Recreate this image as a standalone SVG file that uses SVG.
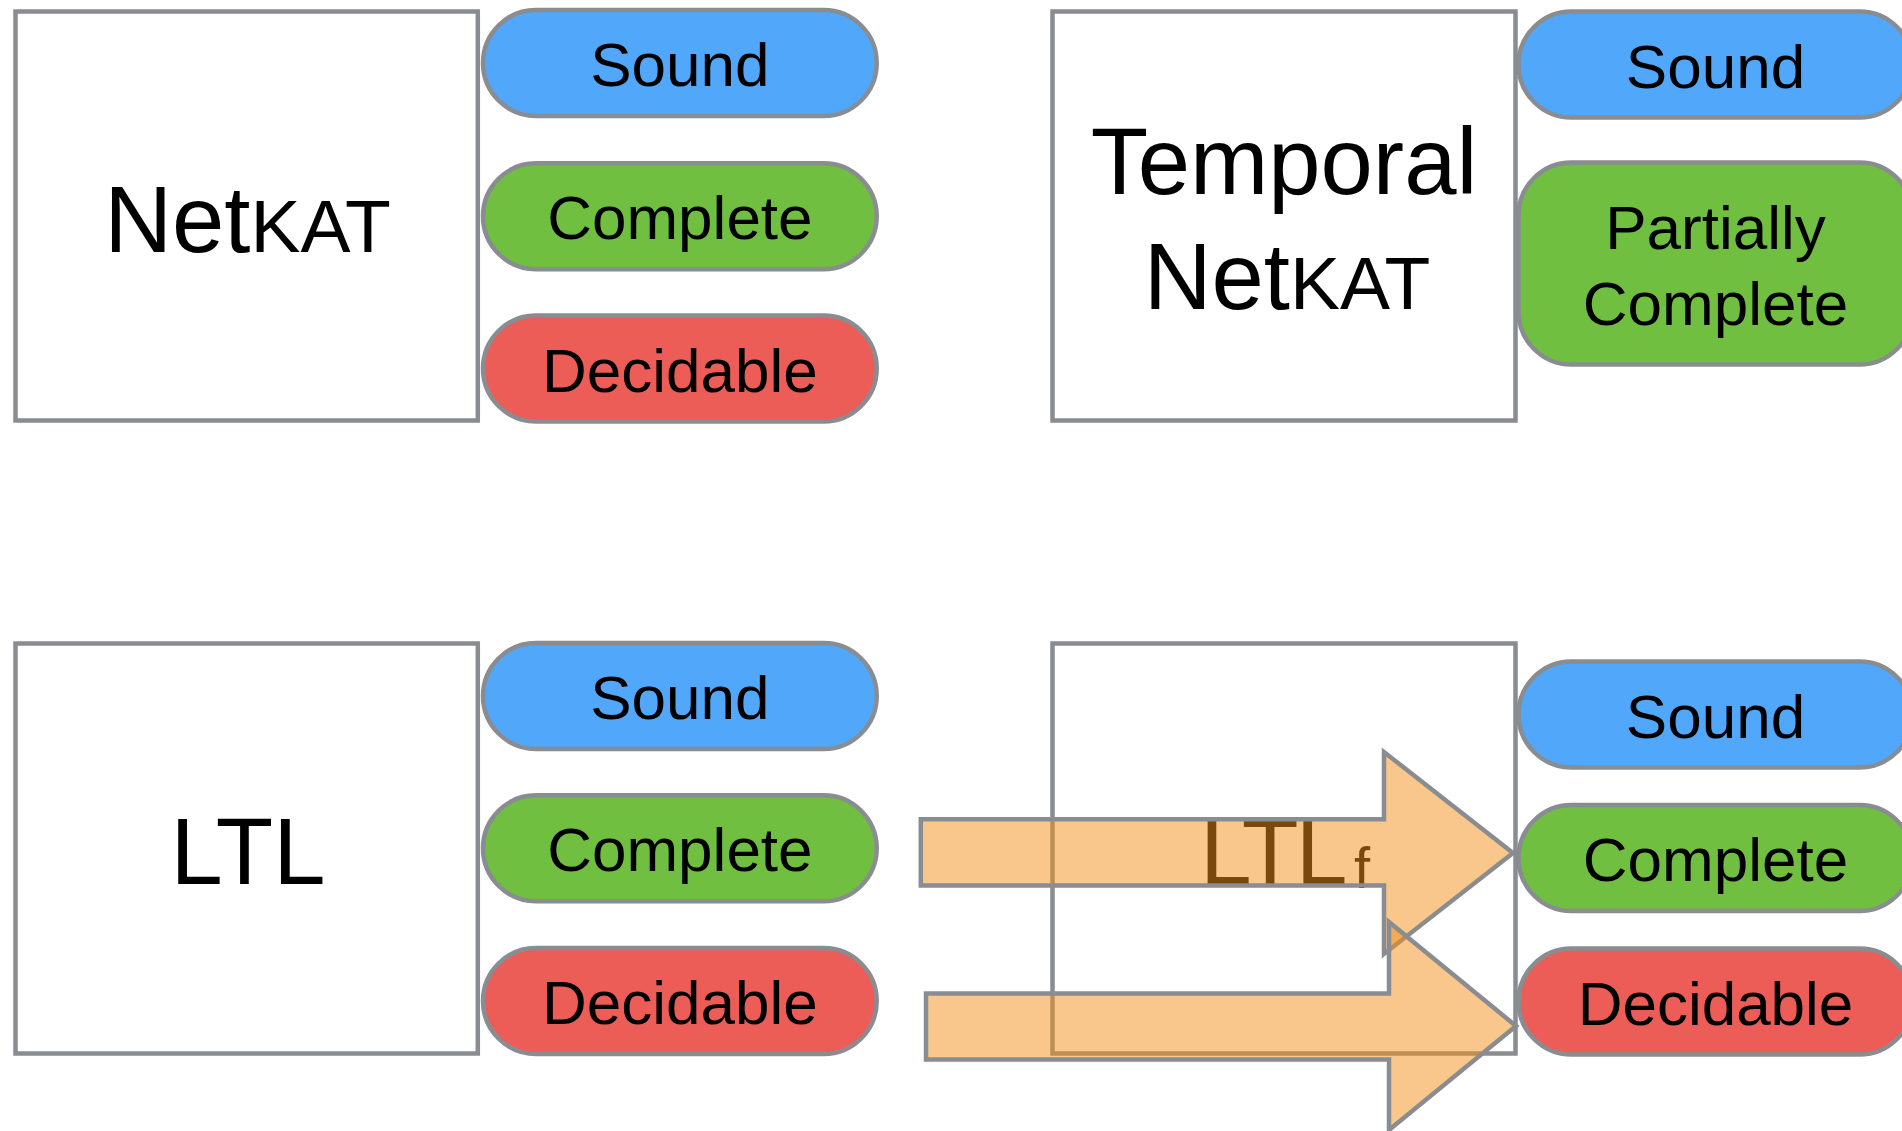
<svg xmlns="http://www.w3.org/2000/svg" width="1902" height="1131" viewBox="0 0 1902 1131">
  <style>
    .box { fill: #ffffff; stroke: #898c90; stroke-width: 4.5; }
    .pill { stroke: #898c90; stroke-width: 4.5; }
    .sound { fill: #51a7f9; }
    .complete { fill: #70bf41; }
    .decidable { fill: #ec5d57; }
    .lbl { font-family: "Liberation Sans", Arial, sans-serif; font-size: 62px; fill: #000000; text-anchor: middle; }
    .title { font-family: "Liberation Sans", Arial, sans-serif; font-size: 94px; fill: #000000; text-anchor: middle; }
    .sc { font-size: 75px; }
    .arrow { fill: #f39019; fill-opacity: 0.5; stroke: #898c90; stroke-width: 4.5; stroke-linejoin: miter; }
  </style>

  <!-- NetKAT -->
  <g id="netkat">
    <rect class="box" x="15.5" y="11.5" width="462.3" height="409"/>
    <text class="title" x="247.5" y="252">Net<tspan class="sc">KAT</tspan></text>
  </g>
  <g id="netkat-sound">
    <rect class="pill sound" x="483" y="10" width="393.7" height="106" rx="53"/>
    <text class="lbl" x="679.9" y="86">Sound</text>
  </g>
  <g id="netkat-complete">
    <rect class="pill complete" x="483" y="163.3" width="393.7" height="106" rx="53"/>
    <text class="lbl" x="679.9" y="239.3">Complete</text>
  </g>
  <g id="netkat-decidable">
    <rect class="pill decidable" x="483" y="315.5" width="393.7" height="106" rx="53"/>
    <text class="lbl" x="679.9" y="391.5">Decidable</text>
  </g>

  <!-- Temporal NetKAT -->
  <g id="temporal-netkat">
    <rect class="box" x="1052.5" y="11.5" width="463" height="409"/>
    <text class="title" x="1284" y="194">Temporal</text>
    <text class="title" x="1287" y="309">Net<tspan class="sc">KAT</tspan></text>
  </g>
  <g id="temporal-sound">
    <rect class="pill sound" x="1518.5" y="11.5" width="394" height="106" rx="53"/>
    <text class="lbl" x="1715.5" y="87.5">Sound</text>
  </g>
  <g id="temporal-partially-complete">
    <rect class="pill complete" x="1518.5" y="162.5" width="394" height="202" rx="53"/>
    <text class="lbl" x="1715.5" y="249">Partially</text>
    <text class="lbl" x="1715.5" y="325">Complete</text>
  </g>

  <!-- LTL -->
  <g id="ltl">
    <rect class="box" x="15.5" y="643.5" width="462.3" height="410"/>
    <text class="title" x="248" y="884">LTL</text>
  </g>
  <g id="ltl-sound">
    <rect class="pill sound" x="483" y="643" width="393.7" height="106" rx="53"/>
    <text class="lbl" x="679.9" y="719">Sound</text>
  </g>
  <g id="ltl-complete">
    <rect class="pill complete" x="483" y="795.3" width="393.7" height="106" rx="53"/>
    <text class="lbl" x="679.9" y="871.3">Complete</text>
  </g>
  <g id="ltl-decidable">
    <rect class="pill decidable" x="483" y="948" width="393.7" height="106" rx="53"/>
    <text class="lbl" x="679.9" y="1024">Decidable</text>
  </g>

  <!-- LTLf -->
  <g id="ltlf">
    <rect class="box" x="1052.5" y="643.5" width="463" height="410"/>
    <text class="title" x="1200" y="883.5" style="text-anchor:start;font-size:93px;letter-spacing:-3px">LTL</text>
    <text class="title" x="1354" y="888" style="text-anchor:start;font-size:58px">f</text>
  </g>
  <g id="ltlf-sound">
    <rect class="pill sound" x="1518.5" y="661.5" width="394" height="106" rx="53"/>
    <text class="lbl" x="1715.5" y="737.5">Sound</text>
  </g>
  <g id="ltlf-complete">
    <rect class="pill complete" x="1518.5" y="805" width="394" height="106" rx="53"/>
    <text class="lbl" x="1715.5" y="881">Complete</text>
  </g>
  <g id="ltlf-decidable">
    <rect class="pill decidable" x="1518.5" y="948.5" width="394" height="106" rx="53"/>
    <text class="lbl" x="1715.5" y="1024.5">Decidable</text>
  </g>

  <!-- connectors: block arrows from LTL properties into LTLf -->
  <g id="connectors">
    <path class="arrow" d="M920.8,819.3 H1384 V752 L1513,853 L1384,954 V885.5 H920.8 Z"/>
    <path class="arrow" d="M926,993.5 H1389 V922 L1516,1026 L1389,1130 V1059.5 H926 Z"/>
  </g>
</svg>
